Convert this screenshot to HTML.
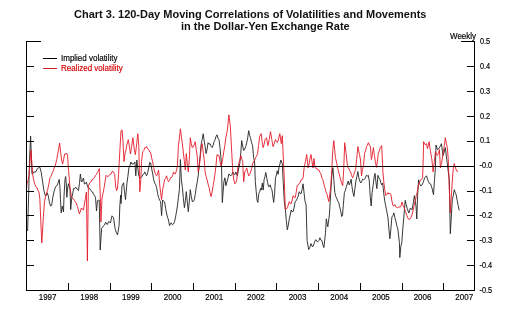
<!DOCTYPE html>
<html><head><meta charset="utf-8"><style>
html,body{margin:0;padding:0;background:#fff;width:509px;height:313px;overflow:hidden}
svg{display:block;will-change:transform}
</style></head><body>
<svg width="509" height="313" viewBox="0 0 509 313">
<path d="M27.6 231.0 L28.5 200.0 L29.5 160.0 L30.6 136.0 L31.5 160.0 L31.9 173.6 L32.9 173.5 L33.8 171.8 L34.8 172.2 L36.0 171.6 L37.2 168.9 L38.4 167.9 L39.8 167.2 L41.2 172.2 L42.7 182.2 L43.9 190.6 L44.8 194.0 L45.6 196.2 L46.5 195.1 L47.3 192.8 L48.4 196.2 L49.5 202.9 L50.6 206.2 L51.7 205.1 L52.8 197.3 L54.0 191.7 L55.6 186.6 L56.7 185.9 L57.8 183.7 L59.2 179.4 L59.9 186.6 L60.5 199.5 L61.2 212.9 L62.3 206.2 L63.5 211.8 L64.0 196.2 L65.0 179.4 L65.7 176.5 L66.3 184.0 L66.8 197.3 L67.9 186.0 L68.5 183.7 L70.0 189.4 L70.7 209.6 L71.8 197.3 L72.9 193.0 L73.5 188.4 L74.7 188.7 L75.8 187.2 L77.2 189.3 L78.5 190.6 L79.5 182.6 L80.4 174.0 L81.4 182.0 L82.4 180.9 L83.4 178.0 L84.4 184.0 L85.4 183.6 L86.4 182.0 L87.4 186.0 L88.5 188.2 L89.6 188.4 L90.7 190.0 L91.7 191.6 L92.6 192.0 L93.6 194.6 L94.5 195.2 L95.5 197.5 L96.5 211.0 L97.4 201.0 L98.4 200.0 L99.2 200.0 L100.2 250.0 L101.6 228.5 L103.2 226.2 L104.4 225.2 L105.6 222.2 L107.2 224.6 L108.8 221.4 L110.4 223.0 L112.0 215.8 L113.5 217.4 L115.1 228.5 L116.3 232.6 L117.5 234.9 L119.1 225.4 L119.9 204.6 L120.7 195.0 L121.0 203.6 L122.0 185.7 L123.6 182.8 L124.5 191.5 L125.5 199.6 L126.9 183.8 L127.9 176.2 L128.9 167.9 L129.9 165.6 L130.9 162.0 L131.9 164.0 L132.9 164.0 L133.9 163.6 L134.9 162.0 L135.8 175.8 L136.8 160.0 L137.8 168.4 L138.8 175.8 L139.8 177.4 L140.8 177.8 L141.8 176.7 L142.8 174.9 L143.8 173.9 L144.8 171.9 L145.8 174.5 L146.7 175.8 L147.7 172.5 L148.7 167.9 L149.7 162.5 L150.7 163.0 L151.7 168.9 L152.7 173.9 L153.7 179.8 L154.7 182.9 L155.6 184.6 L156.6 187.7 L157.6 193.3 L158.6 197.6 L159.6 200.1 L160.6 201.6 L161.6 215.6 L162.6 200.0 L163.6 201.3 L164.6 202.0 L165.6 208.4 L166.5 213.0 L167.5 217.2 L168.5 220.0 L169.5 225.7 L171.1 222.8 L172.5 224.8 L173.5 224.0 L174.5 221.8 L175.4 217.8 L176.4 212.3 L177.4 206.0 L178.4 197.6 L179.4 189.7 L180.4 159.5 L181.4 179.8 L182.4 187.7 L183.4 198.7 L184.4 207.7 L185.4 200.6 L186.3 191.7 L187.3 202.1 L188.3 211.7 L189.3 201.2 L190.3 189.7 L191.3 196.5 L192.3 201.6 L193.3 201.4 L194.3 199.6 L195.2 194.6 L196.2 187.7 L197.2 182.3 L198.2 175.8 L199.2 165.0 L200.2 155.2 L201.2 143.7 L202.2 139.5 L203.2 133.8 L204.2 140.9 L205.1 146.3 L206.1 153.6 L207.1 149.1 L208.1 142.7 L209.1 144.1 L210.1 143.7 L211.1 146.3 L212.1 147.6 L213.1 145.4 L214.1 141.7 L215.1 139.7 L216.0 136.6 L217.0 134.8 L218.0 138.1 L219.0 139.7 L220.0 147.6 L221.5 164.0 L222.3 202.6 L223.9 181.8 L224.9 177.8 L225.9 185.7 L226.9 181.8 L227.9 178.4 L228.9 173.9 L229.9 175.3 L230.9 175.8 L231.9 174.5 L232.8 171.9 L233.8 174.2 L234.8 174.9 L235.8 171.9 L237.4 175.8 L238.8 167.9 L239.8 163.4 L240.8 152.8 L241.7 140.6 L242.7 146.1 L243.7 150.5 L244.7 149.2 L245.7 146.6 L246.7 142.8 L247.7 137.7 L248.7 130.7 L249.7 135.5 L250.7 138.7 L251.6 142.8 L252.6 145.6 L253.6 157.5 L254.6 162.0 L255.3 181.3 L256.2 191.5 L257.1 200.6 L257.9 202.4 L258.8 193.6 L259.7 191.6 L260.6 188.3 L261.4 190.1 L262.3 183.1 L263.2 190.1 L264.1 179.6 L265.0 176.4 L265.8 172.5 L266.7 177.8 L267.6 182.5 L268.5 186.6 L269.4 186.5 L270.2 184.8 L271.1 188.4 L272.0 190.1 L272.9 197.0 L273.7 202.4 L274.6 193.6 L275.5 177.8 L276.4 174.9 L277.2 170.8 L278.1 174.3 L279.0 167.3 L279.9 164.2 L280.7 160.3 L280.9 160.0 L282.3 164.0 L283.3 183.5 L284.3 201.6 L285.3 209.0 L286.3 220.4 L287.3 229.8 L288.3 225.2 L289.3 218.9 L290.2 215.1 L291.2 210.0 L292.2 211.7 L293.2 211.5 L294.2 207.0 L295.2 201.6 L296.2 200.8 L297.2 198.6 L298.2 196.1 L299.2 191.7 L300.1 193.4 L301.1 193.7 L302.1 189.4 L303.1 183.8 L304.1 193.2 L305.1 201.6 L306.1 205.0 L307.1 240.6 L308.7 249.6 L309.9 247.3 L311.0 243.6 L312.0 246.1 L313.0 246.6 L314.0 243.9 L315.0 240.6 L316.0 239.7 L316.9 241.5 L317.9 241.6 L318.9 240.5 L319.9 237.7 L320.9 240.1 L321.9 240.6 L322.9 244.9 L323.9 247.6 L325.5 232.7 L326.3 218.9 L327.8 226.8 L329.4 214.9 L330.8 191.7 L331.8 175.8 L332.9 167.7 L333.8 179.2 L334.8 192.6 L335.8 196.3 L336.7 198.3 L337.6 200.9 L338.6 202.1 L339.6 206.6 L340.5 209.8 L341.7 216.5 L342.5 215.6 L343.4 204.1 L344.4 192.6 L345.4 190.3 L346.3 186.8 L347.2 184.3 L348.2 181.1 L349.2 184.9 L350.1 183.0 L351.1 179.2 L352.0 186.8 L352.9 192.3 L353.9 196.4 L354.9 188.7 L355.9 181.1 L356.9 176.7 L357.8 171.5 L358.7 177.2 L359.7 180.8 L360.7 183.0 L361.6 181.7 L362.6 179.2 L363.6 179.7 L364.5 179.2 L365.4 177.8 L366.4 175.3 L367.4 176.0 L368.3 175.3 L369.3 181.1 L370.2 196.4 L371.2 206.0 L372.1 192.6 L373.1 185.6 L374.1 177.2 L375.0 173.4 L375.9 181.8 L376.9 188.7 L377.9 175.3 L378.9 177.9 L379.8 179.2 L380.8 182.4 L381.7 184.9 L382.7 183.0 L383.6 192.1 L384.6 200.2 L385.6 205.4 L386.5 209.8 L388.0 218.0 L388.9 229.1 L389.9 238.7 L390.9 228.7 L391.9 216.9 L392.9 215.8 L393.9 212.9 L394.9 217.7 L395.8 220.8 L396.8 225.7 L397.8 228.8 L399.4 242.6 L399.8 257.5 L400.8 246.6 L401.8 242.6 L402.8 228.8 L404.0 215.0 L405.2 200.4 L406.2 204.9 L407.2 208.4 L408.8 213.0 L410.4 208.0 L412.0 209.8 L412.8 206.0 L414.4 195.6 L416.0 206.0 L416.8 219.0 L417.6 195.6 L418.6 179.8 L419.6 183.6 L420.6 185.7 L421.6 185.5 L422.6 183.8 L423.6 181.2 L424.6 177.8 L425.6 177.1 L426.5 175.8 L427.5 179.1 L428.5 181.8 L429.5 183.6 L430.5 183.8 L431.9 187.7 L433.5 194.7 L434.5 179.8 L435.4 167.9 L436.0 145.0 L437.4 149.6 L438.4 149.1 L439.4 147.6 L440.4 146.0 L441.4 143.7 L443.0 155.5 L444.1 152.3 L445.3 147.6 L446.3 156.1 L447.3 163.5 L448.3 172.0 L449.3 179.8 L450.3 233.7 L451.3 217.1 L452.3 199.6 L453.3 195.3 L454.3 189.7 L455.2 192.6 L456.2 194.7 L457.2 200.6 L458.2 205.5 L459.2 210.5" fill="none" stroke="#222" stroke-width="0.9" stroke-linejoin="round"/>
<path d="M26.5 190.0 L27.0 183.5 L28.0 180.5 L29.0 175.5 L29.9 163.7 L30.9 150.0 L31.9 163.3 L32.9 176.0 L33.9 180.6 L34.9 184.5 L35.9 186.8 L36.9 187.4 L37.9 190.5 L38.9 192.0 L39.8 198.0 L40.8 221.3 L41.8 243.0 L43.4 216.3 L44.5 201.8 L45.6 196.2 L46.7 192.8 L47.7 189.4 L48.8 184.2 L49.9 178.0 L51.0 176.5 L52.0 173.6 L53.1 171.5 L54.2 168.0 L55.7 164.0 L56.7 159.7 L57.7 154.0 L58.7 148.9 L59.6 143.0 L60.6 152.1 L61.6 160.0 L62.6 164.0 L63.6 159.6 L64.6 154.0 L65.6 154.3 L66.6 153.0 L67.6 156.0 L68.6 170.5 L69.6 183.0 L70.4 190.6 L71.3 196.2 L72.2 198.0 L73.0 198.4 L74.6 200.6 L75.4 202.4 L76.3 202.9 L77.2 206.2 L78.0 208.5 L79.4 214.0 L80.4 211.3 L81.4 208.0 L82.4 209.3 L83.4 210.0 L84.4 204.0 L85.4 198.6 L86.4 192.0 L87.4 261.0 L88.4 186.0 L89.7 183.0 L90.7 182.0 L91.7 180.0 L92.7 179.7 L93.6 178.2 L94.5 177.7 L95.5 175.3 L96.5 174.6 L97.4 172.5 L98.3 171.2 L99.3 168.6 L100.4 200.0 L100.9 222.0 L102.0 198.0 L103.0 193.4 L104.1 187.8 L105.0 181.9 L106.0 175.3 L107.0 176.3 L108.0 176.3 L109.0 175.7 L109.9 174.4 L111.0 174.1 L112.1 171.5 L113.2 171.5 L114.7 174.4 L115.6 185.9 L116.6 190.7 L117.5 188.0 L118.5 175.0 L119.9 150.0 L121.0 131.0 L122.0 129.8 L123.0 141.7 L124.0 161.5 L125.0 153.6 L126.0 149.9 L126.9 144.7 L128.3 139.7 L129.9 149.6 L130.4 154.0 L131.7 146.3 L132.9 137.7 L134.3 149.6 L135.4 154.6 L136.8 142.7 L137.8 133.8 L138.8 145.6 L139.8 191.7 L140.8 179.8 L141.5 161.5 L142.8 151.6 L143.8 150.5 L144.8 147.6 L145.8 148.0 L146.7 146.6 L147.7 148.9 L148.7 149.6 L149.7 152.0 L150.7 152.6 L151.7 158.1 L152.7 162.0 L153.7 167.8 L154.7 171.9 L155.6 174.4 L156.6 175.8 L157.6 173.9 L158.6 170.0 L159.6 183.8 L160.6 192.7 L161.6 199.6 L162.6 189.7 L163.6 185.2 L164.6 179.8 L165.6 178.6 L166.5 175.8 L167.5 179.6 L168.5 181.8 L169.5 180.4 L170.5 177.8 L171.5 177.5 L172.5 175.8 L173.5 171.9 L174.4 173.5 L175.4 173.9 L176.4 170.8 L177.4 165.9 L178.4 145.6 L179.4 137.9 L180.4 128.8 L181.4 137.1 L182.4 143.7 L183.4 153.1 L184.4 161.5 L185.3 169.9 L186.3 153.6 L187.3 163.7 L188.3 171.9 L189.3 159.5 L190.3 137.7 L191.3 143.6 L192.3 147.6 L193.3 146.8 L194.3 144.7 L195.2 141.7 L196.2 149.3 L197.2 155.5 L198.2 171.9 L199.2 167.4 L200.2 158.4 L201.2 147.6 L202.2 143.7 L203.2 152.4 L204.2 159.5 L205.1 171.9 L206.1 176.5 L207.1 179.8 L208.1 184.2 L209.1 187.7 L210.1 192.7 L211.1 196.6 L212.1 191.9 L213.1 185.7 L214.1 180.2 L215.0 173.9 L216.0 165.2 L217.0 154.6 L218.0 155.5 L219.0 155.5 L220.0 161.7 L221.0 166.0 L221.9 163.4 L222.9 157.7 L223.9 151.0 L224.9 145.3 L225.8 137.7 L226.7 133.6 L227.6 128.0 L228.9 114.9 L230.3 125.8 L231.8 153.5 L232.8 171.9 L233.8 179.8 L234.8 183.8 L235.8 182.5 L236.8 179.8 L237.8 167.9 L238.8 163.4 L239.8 160.1 L240.8 155.5 L241.8 159.2 L242.7 161.4 L243.7 181.8 L244.7 171.9 L245.7 170.6 L246.7 167.9 L247.7 172.4 L248.7 175.8 L249.7 174.3 L250.7 171.9 L251.6 168.6 L252.6 164.0 L253.6 161.4 L254.6 160.4 L255.6 157.5 L256.6 156.2 L257.6 153.5 L258.6 145.5 L259.6 136.7 L261.1 133.7 L262.1 141.5 L263.1 147.6 L264.1 144.4 L265.1 139.6 L266.5 137.7 L267.9 145.6 L269.2 139.6 L270.5 131.7 L271.8 139.6 L273.0 146.6 L274.2 143.9 L275.4 139.6 L276.4 141.4 L277.4 142.6 L278.6 138.9 L279.8 133.7 L281.3 143.6 L282.3 135.7 L283.7 166.0 L284.3 179.8 L285.3 209.5 L286.3 209.0 L287.3 207.5 L288.3 205.0 L289.3 201.6 L290.2 203.5 L291.2 203.6 L292.2 200.0 L293.2 195.6 L294.2 197.3 L295.2 197.6 L296.2 192.5 L297.2 185.7 L298.2 185.2 L299.2 183.8 L300.1 182.2 L301.1 179.8 L302.1 179.7 L303.1 177.8 L304.1 167.9 L305.4 161.8 L306.7 154.5 L308.1 167.9 L309.1 164.2 L310.0 158.6 L311.0 154.5 L312.0 161.8 L313.0 167.9 L314.0 158.5 L315.0 167.4 L316.0 168.3 L317.0 168.4 L317.9 169.9 L318.9 169.9 L319.9 172.3 L320.9 173.9 L321.9 177.8 L322.9 179.8 L323.9 184.1 L324.9 187.7 L325.9 191.5 L326.9 193.7 L327.9 198.0 L328.8 201.6 L329.8 194.1 L330.8 185.7 L331.8 169.4 L332.8 149.6 L333.8 140.7 L335.4 157.5 L336.8 163.5 L337.8 168.6 L338.7 171.9 L339.7 176.3 L340.7 179.8 L341.7 183.2 L342.7 185.7 L343.7 169.9 L344.7 142.7 L346.1 153.6 L347.6 167.4 L348.6 167.9 L349.6 170.7 L350.6 171.9 L351.6 175.4 L352.6 177.8 L353.6 175.2 L354.6 171.9 L355.6 169.4 L356.6 159.5 L357.9 146.6 L359.5 154.6 L360.5 160.0 L361.5 175.8 L362.5 169.4 L363.5 165.9 L364.5 153.6 L365.5 151.1 L366.5 146.6 L367.4 145.1 L368.4 142.7 L369.4 145.0 L370.4 146.6 L371.4 159.5 L372.4 154.1 L373.4 147.6 L374.4 155.3 L375.4 161.5 L376.4 167.4 L377.4 161.3 L378.3 153.6 L379.3 151.0 L380.3 147.6 L381.7 145.6 L382.9 172.0 L384.0 183.8 L384.9 190.2 L385.9 195.6 L386.9 194.5 L387.9 192.7 L388.9 194.0 L389.9 193.2 L390.9 194.7 L391.9 200.9 L392.9 205.5 L393.9 206.0 L394.9 204.6 L395.9 206.9 L396.8 207.5 L397.8 207.9 L398.8 206.5 L399.8 207.3 L400.8 206.6 L402.0 202.0 L403.0 205.4 L404.0 207.5 L405.6 211.4 L406.8 215.5 L408.0 218.6 L409.6 219.4 L411.2 217.0 L412.8 212.0 L414.4 204.0 L415.3 200.9 L416.3 195.7 L417.2 192.4 L418.6 183.8 L419.6 182.2 L420.6 179.8 L421.6 179.4 L422.6 177.8 L423.2 160.0 L423.6 141.7 L425.1 144.7 L426.5 143.7 L427.5 148.6 L429.1 141.7 L430.5 151.6 L431.9 159.5 L433.1 171.9 L434.2 162.7 L435.4 151.6 L436.4 153.9 L437.4 155.5 L438.4 153.3 L439.4 149.6 L440.4 167.9 L441.4 163.5 L442.4 158.1 L443.4 151.6 L444.4 145.3 L445.3 137.7 L446.3 143.1 L447.3 147.6 L448.3 159.5 L449.3 189.7 L450.3 212.9 L451.7 189.7 L453.3 167.9 L454.3 163.5 L454.9 165.9 L456.2 169.9 L457.1 171.4 L458.0 171.0" fill="none" stroke="#e41a28" stroke-width="0.9" stroke-linejoin="round"/>
<g stroke="#000" stroke-width="1" shape-rendering="crispEdges"><line x1="26.5" y1="41" x2="26.5" y2="291"/><line x1="474.5" y1="41" x2="474.5" y2="291"/><line x1="26" y1="290.5" x2="475" y2="290.5"/><line x1="26" y1="166.5" x2="475" y2="166.5"/><line x1="26" y1="41.5" x2="41" y2="41.5"/><line x1="461" y1="41.5" x2="475" y2="41.5"/><line x1="26" y1="66.5" x2="34" y2="66.5"/><line x1="467" y1="66.5" x2="475" y2="66.5"/><line x1="26" y1="91.5" x2="34" y2="91.5"/><line x1="467" y1="91.5" x2="475" y2="91.5"/><line x1="26" y1="116.5" x2="34" y2="116.5"/><line x1="467" y1="116.5" x2="475" y2="116.5"/><line x1="26" y1="141.5" x2="34" y2="141.5"/><line x1="467" y1="141.5" x2="475" y2="141.5"/><line x1="26" y1="191.5" x2="34" y2="191.5"/><line x1="467" y1="191.5" x2="475" y2="191.5"/><line x1="26" y1="215.5" x2="34" y2="215.5"/><line x1="467" y1="215.5" x2="475" y2="215.5"/><line x1="26" y1="240.5" x2="34" y2="240.5"/><line x1="467" y1="240.5" x2="475" y2="240.5"/><line x1="26" y1="265.5" x2="34" y2="265.5"/><line x1="467" y1="265.5" x2="475" y2="265.5"/><line x1="26" y1="166.5" x2="34" y2="166.5"/><line x1="68.5" y1="283" x2="68.5" y2="291"/><line x1="110.5" y1="283" x2="110.5" y2="291"/><line x1="151.5" y1="283" x2="151.5" y2="291"/><line x1="193.5" y1="283" x2="193.5" y2="291"/><line x1="235.5" y1="283" x2="235.5" y2="291"/><line x1="276.5" y1="283" x2="276.5" y2="291"/><line x1="318.5" y1="283" x2="318.5" y2="291"/><line x1="360.5" y1="283" x2="360.5" y2="291"/><line x1="402.5" y1="283" x2="402.5" y2="291"/><line x1="443.5" y1="283" x2="443.5" y2="291"/></g>
<g font-family="Liberation Sans, sans-serif" font-size="9" fill="#000" stroke="#000" stroke-width="0.18"><text transform="translate(479.90 43.80) scale(0.82 1)">0.5</text><text transform="translate(479.90 68.72) scale(0.82 1)">0.4</text><text transform="translate(479.90 93.64) scale(0.82 1)">0.3</text><text transform="translate(479.90 118.56) scale(0.82 1)">0.2</text><text transform="translate(479.90 143.48) scale(0.82 1)">0.1</text><text transform="translate(479.50 168.40) scale(0.82 1)">-0.0</text><text transform="translate(479.50 193.32) scale(0.82 1)">-0.1</text><text transform="translate(479.50 218.24) scale(0.82 1)">-0.2</text><text transform="translate(479.50 243.16) scale(0.82 1)">-0.3</text><text transform="translate(479.50 268.08) scale(0.82 1)">-0.4</text><text transform="translate(479.50 293.00) scale(0.82 1)">-0.5</text><text transform="translate(47.60 300.20) scale(0.89 1)" text-anchor="middle">1997</text><text transform="translate(89.26 300.20) scale(0.89 1)" text-anchor="middle">1998</text><text transform="translate(130.92 300.20) scale(0.89 1)" text-anchor="middle">1999</text><text transform="translate(172.58 300.20) scale(0.89 1)" text-anchor="middle">2000</text><text transform="translate(214.24 300.20) scale(0.89 1)" text-anchor="middle">2001</text><text transform="translate(255.90 300.20) scale(0.89 1)" text-anchor="middle">2002</text><text transform="translate(297.56 300.20) scale(0.89 1)" text-anchor="middle">2003</text><text transform="translate(339.22 300.20) scale(0.89 1)" text-anchor="middle">2004</text><text transform="translate(380.88 300.20) scale(0.89 1)" text-anchor="middle">2005</text><text transform="translate(422.54 300.20) scale(0.89 1)" text-anchor="middle">2006</text><text transform="translate(464.20 300.20) scale(0.89 1)" text-anchor="middle">2007</text><text transform="translate(450.00 38.60) scale(0.89 1)">Weekly</text><text transform="translate(61.00 61.00) scale(0.89 1)">Implied volatility</text><text transform="translate(61.00 71.40) scale(0.89 1)" fill="#d40000" stroke="#d40000">Realized volatility</text></g>
<g stroke-width="1" shape-rendering="crispEdges"><line x1="43" y1="58.5" x2="57" y2="58.5" stroke="#000"/><line x1="43" y1="68.5" x2="57" y2="68.5" stroke="#c82020"/></g>
<g font-family="Liberation Sans, sans-serif" font-size="11" font-weight="bold" fill="#111"><text x="74" y="18">Chart 3. 120-Day Moving Correlations of Volatilities and Movements</text><text x="181" y="30">in the Dollar-Yen Exchange Rate</text></g>
</svg>
</body></html>
